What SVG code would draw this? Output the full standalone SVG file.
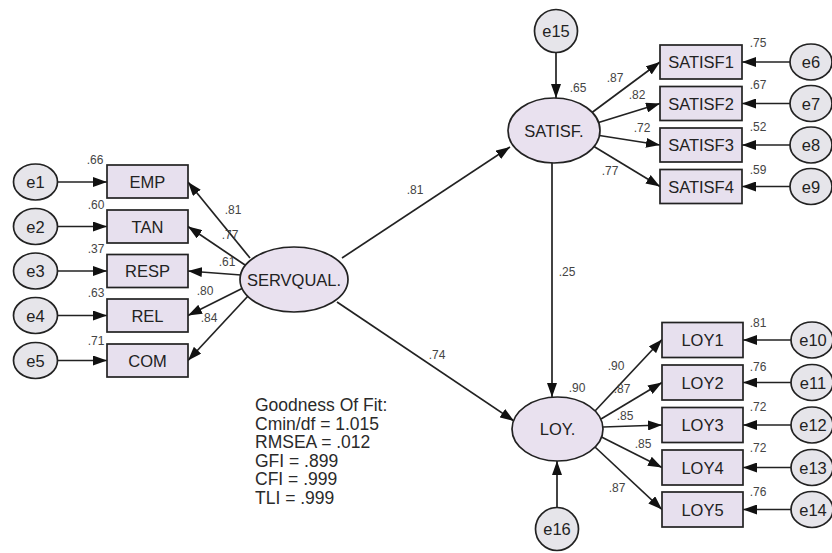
<svg xmlns="http://www.w3.org/2000/svg" width="832" height="553" viewBox="0 0 832 553">
<defs>
<marker id="ah" markerWidth="14" markerHeight="10" refX="14" refY="5" orient="auto" markerUnits="userSpaceOnUse"><path d="M0,0 L14,5 L0,10 z" fill="#111"/></marker>
<style>
.lat{fill:#e9e1ef;stroke:#222;stroke-width:1.7}
.obs{fill:#e7e0ee;stroke:#222;stroke-width:1.7}
.err{fill:#e6e5ea;stroke:#222;stroke-width:1.7}
.lbl{font-family:"Liberation Sans",Arial,sans-serif;font-size:16.5px;fill:#222;text-anchor:middle}
.num{font-family:"Liberation Sans",Arial,sans-serif;font-size:12px;fill:#444;text-anchor:middle}
.fit{font-family:"Liberation Sans",Arial,sans-serif;font-size:17.5px;fill:#2a2a2a}
.c line{stroke:#222;stroke-width:1.7;marker-end:url(#ah)}
</style>
</defs>
<rect width="832" height="553" fill="#fff"/>
<g class="c" id="connectors">
<line x1="57.5" y1="182" x2="107" y2="182"/>
<line x1="57.5" y1="226.5" x2="107" y2="226.5"/>
<line x1="57.5" y1="271" x2="107" y2="271"/>
<line x1="57.5" y1="315.5" x2="107" y2="315.5"/>
<line x1="57.5" y1="360.5" x2="107" y2="360.5"/>
<line x1="250" y1="258" x2="188" y2="182"/>
<line x1="245" y1="265" x2="188" y2="226.5"/>
<line x1="241" y1="275" x2="188" y2="271"/>
<line x1="243" y1="288" x2="188" y2="315.5"/>
<line x1="248" y1="296" x2="188" y2="360.5"/>
<line x1="342" y1="258" x2="510" y2="147"/>
<line x1="337" y1="302" x2="514" y2="421"/>
<line x1="552" y1="163" x2="552" y2="397"/>
<line x1="556" y1="53" x2="556" y2="98"/>
<line x1="557" y1="508" x2="557" y2="461"/>
<line x1="592" y1="112.5" x2="660" y2="62"/>
<line x1="598.6" y1="122.5" x2="660" y2="103.5"/>
<line x1="599.4" y1="135.5" x2="660" y2="145"/>
<line x1="594" y1="146.5" x2="660" y2="186.5"/>
<line x1="595" y1="411" x2="662" y2="339.5"/>
<line x1="601" y1="419" x2="662" y2="382.5"/>
<line x1="603" y1="427" x2="662" y2="425"/>
<line x1="601.5" y1="437" x2="662" y2="467.5"/>
<line x1="595" y1="447" x2="662" y2="509.5"/>
<line x1="790" y1="62" x2="742" y2="62"/>
<line x1="790" y1="103.5" x2="742" y2="103.5"/>
<line x1="790" y1="145" x2="742" y2="145"/>
<line x1="790" y1="186.5" x2="742" y2="186.5"/>
<line x1="791" y1="340" x2="743" y2="340"/>
<line x1="791" y1="382.5" x2="743" y2="382.5"/>
<line x1="791" y1="425" x2="743" y2="425"/>
<line x1="791" y1="467.5" x2="743" y2="467.5"/>
<line x1="791" y1="509.5" x2="743" y2="509.5"/>
</g>
<g id="e1"><ellipse class="err" cx="35.5" cy="182" rx="22" ry="18"/><text class="lbl" x="35.5" y="188">e1</text></g>
<g id="e2"><ellipse class="err" cx="35.5" cy="226.5" rx="22" ry="18"/><text class="lbl" x="35.5" y="232.5">e2</text></g>
<g id="e3"><ellipse class="err" cx="35.5" cy="271" rx="22" ry="18"/><text class="lbl" x="35.5" y="277">e3</text></g>
<g id="e4"><ellipse class="err" cx="35.5" cy="315.5" rx="22" ry="18"/><text class="lbl" x="35.5" y="321.5">e4</text></g>
<g id="e5"><ellipse class="err" cx="35.5" cy="360.5" rx="22" ry="18"/><text class="lbl" x="35.5" y="366.5">e5</text></g>
<g id="EMP"><rect class="obs" x="107" y="165" width="81" height="33"/><text class="lbl" x="147.5" y="187.5">EMP</text><text class="num" x="95" y="164">.66</text></g>
<g id="TAN"><rect class="obs" x="107" y="210" width="81" height="33"/><text class="lbl" x="147.5" y="232.5">TAN</text><text class="num" x="96" y="209">.60</text></g>
<g id="RESP"><rect class="obs" x="107" y="254.5" width="81" height="33"/><text class="lbl" x="147.5" y="277">RESP</text><text class="num" x="96" y="253">.37</text></g>
<g id="REL"><rect class="obs" x="107" y="299" width="81" height="33"/><text class="lbl" x="147.5" y="321.5">REL</text><text class="num" x="96" y="297">.63</text></g>
<g id="COM"><rect class="obs" x="107" y="344" width="81" height="33"/><text class="lbl" x="147.5" y="366.5">COM</text><text class="num" x="96" y="345">.71</text></g>
<g id="SERVQUAL"><ellipse class="lat" cx="294" cy="279.5" rx="54" ry="32.5"/><text class="lbl" x="294" y="285.5">SERVQUAL.</text></g>
<g id="SATISF"><ellipse class="lat" cx="554" cy="130.5" rx="46" ry="32.5"/><text class="lbl" x="554" y="136.5">SATISF.</text><text class="num" x="578" y="92">.65</text></g>
<g id="LOY"><ellipse class="lat" cx="557.5" cy="429" rx="45.5" ry="32"/><text class="lbl" x="557.5" y="435">LOY.</text><text class="num" x="577" y="392">.90</text></g>
<g id="e15"><circle class="err" cx="556" cy="31" r="21.5"/><text class="lbl" x="556" y="37">e15</text></g>
<g id="e16"><circle class="err" cx="557" cy="529" r="21.5"/><text class="lbl" x="557" y="535">e16</text></g>
<g id="SATISF1"><rect class="obs" x="660" y="45" width="82" height="34"/><text class="lbl" x="701" y="68">SATISF1</text><text class="num" x="758" y="47">.75</text></g>
<g id="SATISF2"><rect class="obs" x="660" y="86.5" width="82" height="34"/><text class="lbl" x="701" y="109.5">SATISF2</text><text class="num" x="758" y="89">.67</text></g>
<g id="SATISF3"><rect class="obs" x="660" y="128" width="82" height="34"/><text class="lbl" x="701" y="151">SATISF3</text><text class="num" x="758" y="131">.52</text></g>
<g id="SATISF4"><rect class="obs" x="660" y="169.5" width="82" height="34"/><text class="lbl" x="701" y="192.5">SATISF4</text><text class="num" x="758" y="174">.59</text></g>
<g id="e6"><ellipse class="err" cx="811" cy="62" rx="21" ry="18"/><text class="lbl" x="811" y="68">e6</text></g>
<g id="e7"><ellipse class="err" cx="811" cy="103.5" rx="21" ry="18"/><text class="lbl" x="811" y="109.5">e7</text></g>
<g id="e8"><ellipse class="err" cx="811" cy="145" rx="21" ry="18"/><text class="lbl" x="811" y="151">e8</text></g>
<g id="e9"><ellipse class="err" cx="811" cy="186.5" rx="21" ry="18"/><text class="lbl" x="811" y="192.5">e9</text></g>
<g id="LOY1"><rect class="obs" x="662" y="322.5" width="81" height="35"/><text class="lbl" x="702.5" y="346">LOY1</text><text class="num" x="758" y="327">.81</text></g>
<g id="LOY2"><rect class="obs" x="662" y="365" width="81" height="35"/><text class="lbl" x="702.5" y="388.5">LOY2</text><text class="num" x="758" y="371">.76</text></g>
<g id="LOY3"><rect class="obs" x="662" y="407.5" width="81" height="35"/><text class="lbl" x="702.5" y="431">LOY3</text><text class="num" x="758" y="411">.72</text></g>
<g id="LOY4"><rect class="obs" x="662" y="450" width="81" height="35"/><text class="lbl" x="702.5" y="473.5">LOY4</text><text class="num" x="758" y="452">.72</text></g>
<g id="LOY5"><rect class="obs" x="662" y="492" width="81" height="35"/><text class="lbl" x="702.5" y="515.5">LOY5</text><text class="num" x="758" y="496">.76</text></g>
<g id="e10"><ellipse class="err" cx="812" cy="340" rx="21" ry="18"/><text class="lbl" x="813" y="346">e10</text></g>
<g id="e11"><ellipse class="err" cx="812" cy="382.5" rx="21" ry="18"/><text class="lbl" x="813" y="388.5">e11</text></g>
<g id="e12"><ellipse class="err" cx="812" cy="425" rx="21" ry="18"/><text class="lbl" x="813" y="431">e12</text></g>
<g id="e13"><ellipse class="err" cx="812" cy="467.5" rx="21" ry="18"/><text class="lbl" x="813" y="473.5">e13</text></g>
<g id="e14"><ellipse class="err" cx="812" cy="509.5" rx="21" ry="18"/><text class="lbl" x="813" y="515.5">e14</text></g>
<g id="pathlabels">
<text class="num" x="233" y="214">.81</text>
<text class="num" x="230" y="239">.77</text>
<text class="num" x="227" y="266">.61</text>
<text class="num" x="205" y="295">.80</text>
<text class="num" x="209" y="322">.84</text>
<text class="num" x="415" y="194">.81</text>
<text class="num" x="437" y="359">.74</text>
<text class="num" x="567" y="276">.25</text>
<text class="num" x="615" y="82">.87</text>
<text class="num" x="637" y="99">.82</text>
<text class="num" x="642" y="132">.72</text>
<text class="num" x="610" y="175">.77</text>
<text class="num" x="616" y="370">.90</text>
<text class="num" x="622" y="393">.87</text>
<text class="num" x="625" y="420">.85</text>
<text class="num" x="643" y="448">.85</text>
<text class="num" x="617" y="492">.87</text>
</g>
<g id="fit">
<text class="fit" x="255" y="411">Goodness Of Fit:</text>
<text class="fit" x="255" y="429.5">Cmin/df = 1.015</text>
<text class="fit" x="255" y="448">RMSEA = .012</text>
<text class="fit" x="255" y="466.5">GFI = .899</text>
<text class="fit" x="255" y="485">CFI = .999</text>
<text class="fit" x="255" y="503.5">TLI = .999</text>
</g>
</svg>
